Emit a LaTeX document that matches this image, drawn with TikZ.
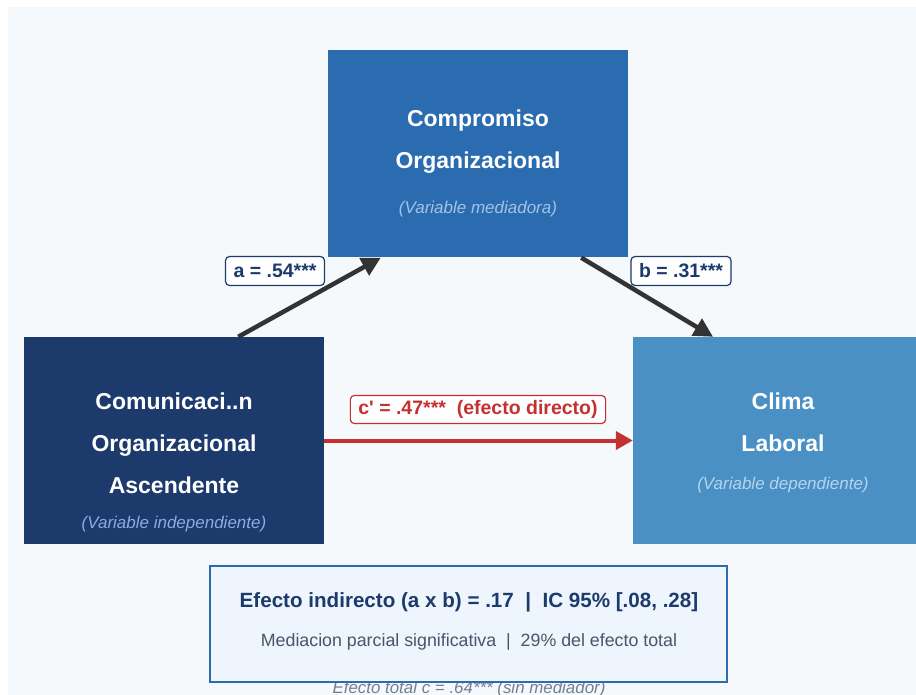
\documentclass[tikz,border=0pt]{standalone}
\usepackage{fontspec}
\setmainfont{Liberation Sans}
\usetikzlibrary{arrows.meta}

\definecolor{navy}{HTML}{1C3A6B}
\definecolor{midblue}{HTML}{2B6CB0}
\definecolor{skyblue}{HTML}{4A90C4}
\definecolor{paper}{HTML}{F5F9FC}
\definecolor{panel}{HTML}{EEF5FD}
\definecolor{effred}{HTML}{C53030}
\definecolor{arrowgray}{HTML}{333333}
\definecolor{textgray}{HTML}{4A5568}
\definecolor{notegray}{HTML}{718096}
\definecolor{medsubcol}{HTML}{A2C2E8}
\definecolor{indsubcol}{HTML}{86AEDF}
\definecolor{depsubcol}{HTML}{B5D5EE}

\tikzset{
	varbox/.style = {rectangle, minimum width = 300pt, minimum height = 207pt, inner sep = 0pt},
	vartitle/.style = {align = center, text = white, font = \fontsize{23}{42}\selectfont\bfseries},
	varsub/.style = {font = \fontsize{17}{20}\selectfont\itshape},
	coef/.style = {draw = navy, fill = white, rounded corners = 4pt, line width = 1.2pt, text = navy,
		font = \fontsize{19.5}{21}\selectfont\bfseries, inner xsep = 8pt, inner ysep = 0pt, minimum height = 29pt},
	effect/.style = {line width = 4.5pt, draw = arrowgray, -{Triangle[length = 19pt, width = 19pt]}},
}

\begin{document}
\begin{tikzpicture}[x = 1pt, y = -1pt]
	\useasboundingbox (0,0) rectangle (916,695);
	\fill [white] (0,0) rectangle (916,695);
	\fill [paper] (8,7) rectangle (916,695);

	% the three variables
	\node (med) at (477.5,154) [varbox, fill = midblue] {};
	\node (ind) at (173.5,440.5) [varbox, fill = navy] {};
	\node (dep) at (783,440.5) [varbox, fill = skyblue] {};

	\node (medtitle) at (478,142) [vartitle] {Compromiso\\Organizacional};
	\node (medsub) at (478,209) [varsub, text = medsubcol] {(Variable mediadora)};
	\node (indtitle) at (174,443) [vartitle] {Comunicaci..n\\Organizacional\\Ascendente};
	\node (indsub) at (174,524) [varsub, text = indsubcol] {(Variable independiente)};
	\node (deptitle) at (783,422) [vartitle] {Clima\\Laboral};
	\node (depsub) at (783,485) [varsub, text = depsubcol] {(Variable dependiente)};

	% paths a, b and c'
	\draw [effect] (ind.58) -- (med.227);
	\draw [effect] (med.-45) -- (dep.124);
	\draw [effect, draw = effred, line width = 4pt, -{Triangle[length = 17pt, width = 18pt]}] (ind.east) -- (dep.west);

	\node (acoef) at (275,271) [coef] {a = .54***};
	\node (bcoef) at (681,271) [coef] {b = .31***};
	\node (ccoef) at (478,409.5) [coef, draw = effred, text = effred, minimum height = 28pt]
		{c\textquotesingle{} = .47***\ \ (efecto directo)};

	% total effect note, partly under the summary panel
	\node (total) at (469,689) [font = \fontsize{16.9}{18}\selectfont\itshape, text = notegray]
		{Efecto total c = .64*** (sin mediador)};

	% summary of the indirect effect
	\node (summary) at (468.5,624) [rectangle, draw = midblue, fill = panel, line width = 2.5pt,
		minimum width = 517pt, minimum height = 116pt] {};
	\node (indirect) at (469,602.5) [text = navy, font = \fontsize{20.6}{23}\selectfont\bfseries]
		{Efecto indirecto (a x b) = .17\ \ |\ \ IC 95\% [.08, .28]};
	\node (partial) at (469,642) [text = textgray, font = \fontsize{17.8}{20}\selectfont]
		{Mediacion parcial significativa\ \ |\ \ 29\% del efecto total};
\end{tikzpicture}
\end{document}
